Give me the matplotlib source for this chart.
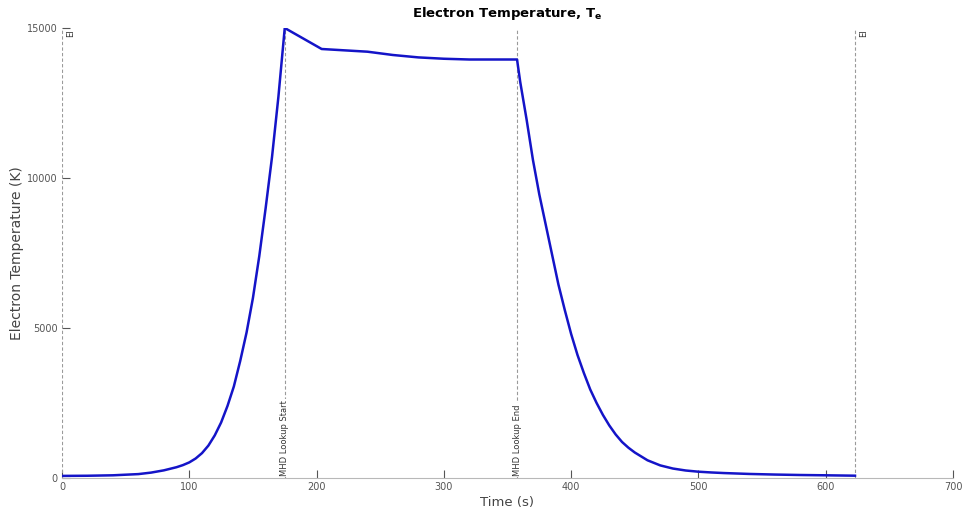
import matplotlib
matplotlib.use("Agg")
import matplotlib.pyplot as plt
from matplotlib.transforms import offset_copy

# Electron temperature history (time in s, temperature in K)
time_s = [0, 20, 40, 60, 70, 80, 90, 95, 100, 105, 110, 115, 120, 125, 130,
          135, 140, 145, 150, 155, 160, 165, 170, 175,
          204, 240, 260, 280, 300, 320, 357.5,
          360, 365, 370, 375, 380, 385, 390, 395, 400, 405, 410, 415, 420,
          425, 430, 435, 440, 445, 450, 460, 470, 480, 490, 500, 510, 520,
          540, 560, 580, 600, 623]
temp_K = [70, 75, 90, 130, 180, 255, 360, 430, 520, 650, 830, 1080, 1420,
          1850, 2400, 3050, 3900, 4850, 6000, 7400, 9000, 10700, 12700, 15000,
          14300, 14210, 14100, 14020, 13975, 13950, 13950,
          13200, 11950, 10600, 9450, 8450, 7450, 6450, 5600, 4800, 4100,
          3500, 2950, 2500, 2100, 1750, 1450, 1200, 1010, 850, 590, 420, 315,
          250, 210, 185, 165, 135, 115, 100, 90, 77]

# Event markers
event_times = [0, 175, 357.5, 623]
event_labels = ["EI", "MHD Lookup Start", "MHD Lookup End", "EI"]
event_label_pos = ["top", "bottom", "bottom", "top"]

x_ticks = [0, 100, 200, 300, 400, 500, 600, 700]
y_ticks = [0, 5000, 10000, 15000]

W, H = 967, 516
fig = plt.figure(figsize=(W / 100, H / 100), dpi=100)
ax = fig.add_axes([62 / W, 38 / H, (953 - 62) / W, 450 / H])

ax.plot(time_s, temp_K, color="#1414c8", lw=1.8, zorder=3,
        solid_joinstyle="round")

ax.set_xlim(0, 700)
ax.set_ylim(0, 15000)
ax.set_xticks(x_ticks)
ax.set_yticks(y_ticks)

for t, lab, pos in zip(event_times, event_labels, event_label_pos):
    ax.axvline(t, color="#9a9a9a", lw=0.8, ls=(0, (3, 2)), zorder=2)
    if pos == "top":
        tr = offset_copy(ax.transData, fig=fig, x=4, y=-1, units="dots")
        ax.text(t, 15000, lab, rotation=90, ha="left", va="top",
                fontsize=6, color="#333333", transform=tr, zorder=2.4)
    else:
        tr = offset_copy(ax.transData, fig=fig, x=0, y=2, units="dots")
        ax.text(t, 0, lab, rotation=90, ha="center", va="bottom",
                fontsize=6, color="#333333", transform=tr, zorder=2.4,
                bbox=dict(facecolor="white", edgecolor="none", pad=0.8))

for side in ("top", "right", "left"):
    ax.spines[side].set_visible(False)
ax.spines["bottom"].set_color("#b8b8b8")
ax.spines["bottom"].set_linewidth(0.8)

ax.tick_params(direction="in", length=6, width=0.8, color="#555555",
               labelcolor="#555555", labelsize=7, pad=3)

ax.set_xlabel("Time (s)", fontsize=9.5, color="#444444", labelpad=3)
ax.set_ylabel("Electron Temperature (K)", fontsize=10, color="#444444",
              labelpad=2)
ax.set_title(r"Electron Temperature, $\mathbf{T_e}$", fontweight="bold",
             fontsize=9.5, pad=8)

fig.savefig("out.png", dpi=100, facecolor="white")
